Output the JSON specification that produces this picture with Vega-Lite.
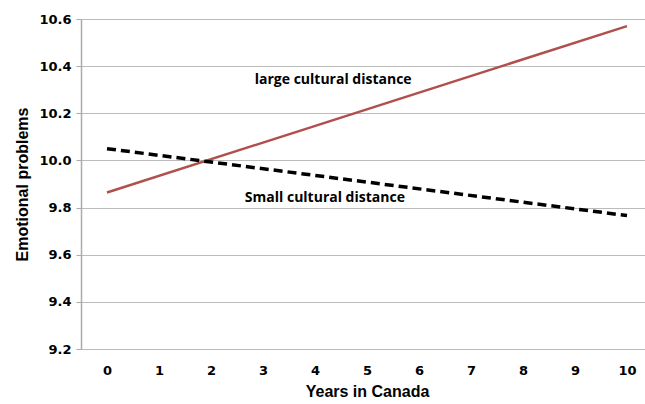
{
  "$schema": "https://vega.github.io/schema/vega-lite/v6.json",
  "width": 572,
  "height": 330,
  "autosize": "none",
  "padding": {"left": 81, "top": 19, "right": 0, "bottom": 55},
  "background": "white",
  "config": {"view": {"stroke": null}},
  "datasets": {
    "lines": [
      {"years": 0, "value": 9.864, "group": "large cultural distance"},
      {"years": 10, "value": 10.57, "group": "large cultural distance"},
      {"years": 0, "value": 10.05, "group": "Small cultural distance"},
      {"years": 10, "value": 9.766, "group": "Small cultural distance"}
    ],
    "labels": [
      {"years": 4.35, "value": 10.341, "text": "large cultural distance"},
      {"years": 4.19, "value": 9.84, "text": "Small cultural distance"}
    ]
  },
  "layer": [
    {
      "data": {"name": "lines"},
      "transform": [{"filter": "datum.group == 'large cultural distance'"}],
      "mark": {"type": "line", "color": "#B0504C", "strokeWidth": 2.5},
      "encoding": {
        "x": {
          "field": "years", "type": "quantitative",
          "scale": {"domain": [-0.5, 10.5], "nice": false},
          "axis": {
            "values": [0,1,2,3,4,5,6,7,8,9,10],
            "title": "Years in Canada",
            "grid": false, "ticks": false, "domain": false,
            "labelFont": "DejaVu Sans", "labelFontWeight": "bold", "labelFontSize": 13,
            "labelColor": "black", "labelPadding": 15,
            "titleFont": "Liberation Sans", "titleFontWeight": "bold", "titleFontSize": 16,
            "titleColor": "black", "titlePadding": 6
          }
        },
        "y": {
          "field": "value", "type": "quantitative",
          "scale": {"domain": [9.2, 10.6], "nice": false, "zero": false},
          "axis": {
            "values": [9.2, 9.4, 9.6, 9.8, 10.0, 10.2, 10.4, 10.6],
            "format": ".1f",
            "title": "Emotional problems",
            "grid": true, "gridColor": "#BBBBBB", "gridWidth": 1.2,
            "domainColor": "#AAAAAA", "domainWidth": 1.5,
            "tickColor": "#AAAAAA", "tickSize": 5,
            "labelFont": "DejaVu Sans", "labelFontWeight": "bold", "labelFontSize": 13,
            "labelColor": "black", "labelPadding": 5,
            "titleFont": "Liberation Sans", "titleFontWeight": "bold", "titleFontSize": 16,
            "titleColor": "black", "titlePadding": 8
          }
        }
      }
    },
    {
      "data": {"name": "lines"},
      "transform": [{"filter": "datum.group == 'Small cultural distance'"}],
      "mark": {"type": "line", "color": "black", "strokeWidth": 3.5, "strokeDash": [9, 5]},
      "encoding": {
        "x": {"field": "years", "type": "quantitative"},
        "y": {"field": "value", "type": "quantitative"}
      }
    },
    {
      "data": {"name": "labels"},
      "mark": {"type": "text", "font": "Open Sans", "fontWeight": "bold", "fontSize": 14, "color": "black", "align": "center", "baseline": "middle"},
      "encoding": {
        "x": {"field": "years", "type": "quantitative"},
        "y": {"field": "value", "type": "quantitative"},
        "text": {"field": "text"}
      }
    }
  ]
}
